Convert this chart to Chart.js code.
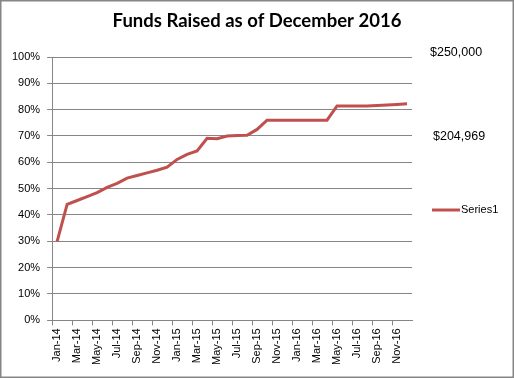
<!DOCTYPE html>
<html>
<head>
<meta charset="utf-8">
<script src="https://cdn.jsdelivr.net/npm/chart.js@4/dist/chart.umd.min.js"></script>
<style>
  body { margin: 0; background: #fff; }
  #wrap { width: 514px; height: 378px; position: relative; }
</style>
</head>
<body>
<div id="wrap"><canvas id="funds_chart"></canvas></div>
<script>
// month labels, Jan-14 .. Dec-16
const months = [
  "Jan-14", "Feb-14", "Mar-14", "Apr-14", "May-14", "Jun-14",
  "Jul-14", "Aug-14", "Sep-14", "Oct-14", "Nov-14", "Dec-14",
  "Jan-15", "Feb-15", "Mar-15", "Apr-15", "May-15", "Jun-15",
  "Jul-15", "Aug-15", "Sep-15", "Oct-15", "Nov-15", "Dec-15",
  "Jan-16", "Feb-16", "Mar-16", "Apr-16", "May-16", "Jun-16",
  "Jul-16", "Aug-16", "Sep-16", "Oct-16", "Nov-16", "Dec-16"
];

// share of goal raised (fraction)
const series1 = [
  0.30, 0.44, 0.455, 0.47, 0.485, 0.505,
  0.52, 0.54, 0.55, 0.56, 0.57, 0.582,
  0.611, 0.63, 0.643, 0.691, 0.69, 0.70,
  0.702, 0.703, 0.725, 0.76, 0.76, 0.76,
  0.76, 0.76, 0.76, 0.76, 0.814, 0.814,
  0.814, 0.814, 0.816, 0.818, 0.82, 0.822
];

const goalText = "$250,000";
const raisedText = "$204,969";
const titleText = "Funds Raised as of December 2016";

const gray = "#868686";

// title (centred on the whole canvas), notes, legend and the outer frame
const extras = {
  id: "extras",
  afterDraw(chart) {
    const ctx = chart.ctx;
    const area = chart.chartArea;
    const ds = chart.data.datasets[0];
    ctx.save();
    ctx.fillStyle = "#000";
    ctx.textBaseline = "middle";
    ctx.textAlign = "center";
    ctx.font = "bold 18.5px Lato";
    ctx.fillText(titleText, chart.width / 2, 21);

    ctx.textAlign = "left";
    ctx.font = "12.5px 'Liberation Sans'";
    ctx.fillText(goalText, area.right + 18, 53);
    ctx.fillText(raisedText, area.right + 21, 137);

    // legend entry
    ctx.strokeStyle = ds.borderColor;
    ctx.lineWidth = ds.borderWidth;
    ctx.beginPath();
    ctx.moveTo(area.right + 20, 210);
    ctx.lineTo(area.right + 48, 210);
    ctx.stroke();
    ctx.font = "11px 'Liberation Sans'";
    ctx.fillText(ds.label, area.right + 49, 210);

    ctx.strokeStyle = gray;
    ctx.lineWidth = 1.5;
    ctx.strokeRect(0.75, 0.75, chart.width - 1.5, chart.height - 1.5);
    ctx.restore();
  }
};

let funds_chart = document.getElementById("funds_chart");
let fundsChart = new Chart(funds_chart, {
  type: "line",
  data: {
    labels: months,
    datasets: [
      {
        label: "Series1",
        data: series1,
        borderColor: "#C0504D",
        backgroundColor: "#C0504D",
        borderWidth: 3,
        pointRadius: 0,
        tension: 0,
      },
    ],
  },
  options: {
    responsive: true,
    maintainAspectRatio: false,
    animation: false,
    layout: {
      padding: { left: 5, right: 102, top: 57, bottom: 10 },
    },
    plugins: {
      title: { display: false },
      legend: { display: false },
      tooltip: { enabled: false },
    },
    scales: {
      x: {
        type: "category",
        offset: true,
        border: { color: gray },
        grid: {
          offset: true,
          drawOnChartArea: false,
          tickLength: 5,
          tickColor: (c) => (c.index % 2 === 0 ? gray : "rgba(0,0,0,0)"),
        },
        ticks: {
          autoSkip: false,
          minRotation: 90,
          maxRotation: 90,
          color: "#000",
          padding: 3,
          font: { family: "Liberation Sans", size: 11 },
          callback: function (value, index) {
            return index % 2 === 0 ? months[index] : "";
          },
        },
      },
      y: {
        min: 0,
        max: 1,
        border: { color: gray },
        grid: { color: gray, tickLength: 5 },
        ticks: {
          stepSize: 0.1,
          color: "#000",
          padding: 7,
          font: { family: "Liberation Sans", size: 11 },
          callback: (v) => Math.round(v * 100) + "%",
        },
      },
    },
  },
  plugins: [extras],
});
</script>
</body>
</html>
